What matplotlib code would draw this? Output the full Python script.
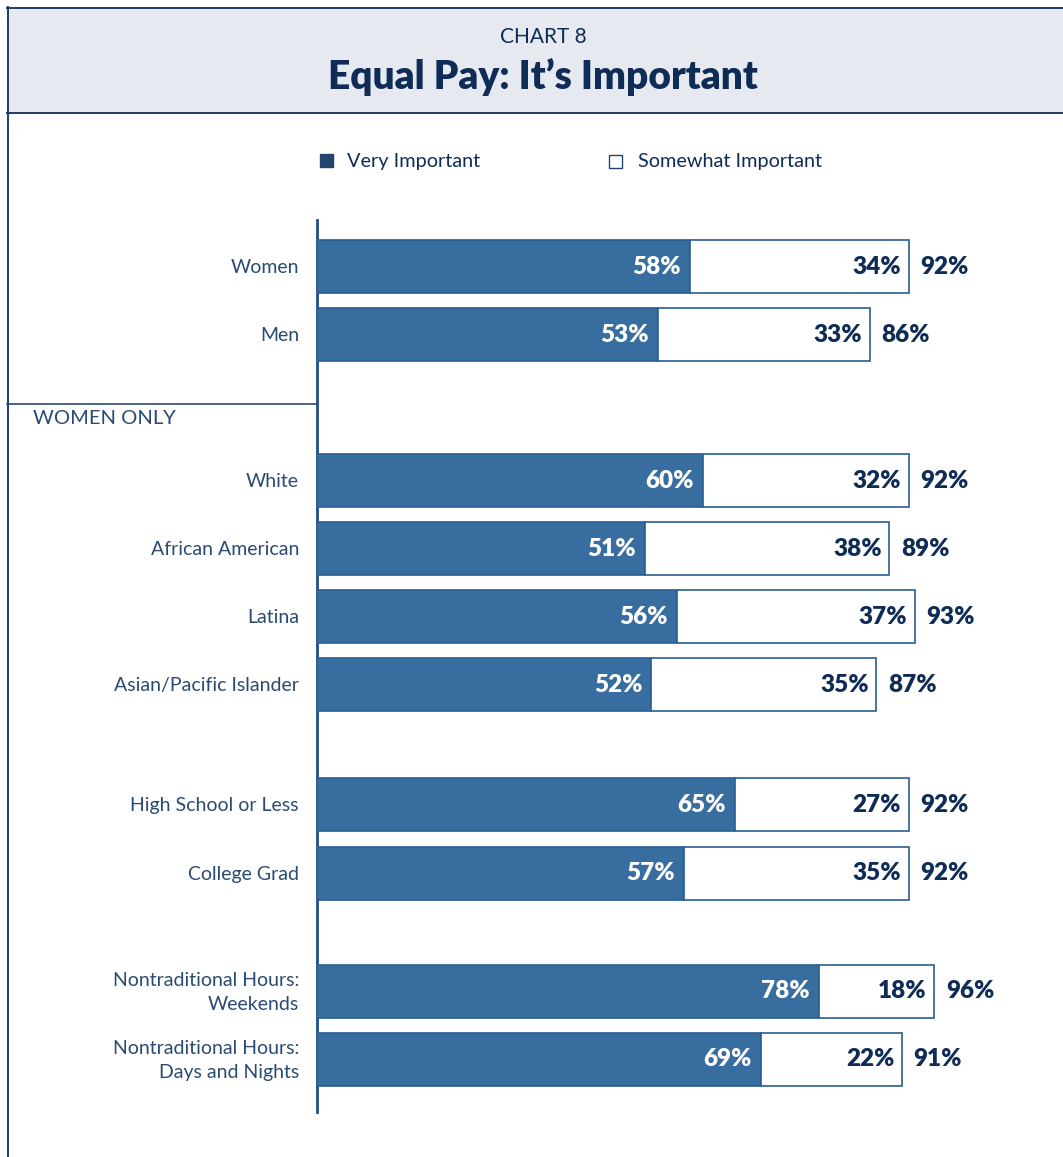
import matplotlib
matplotlib.use("Agg")
import matplotlib.pyplot as plt
from matplotlib.patches import Rectangle
from matplotlib.lines import Line2D

categories = ["Women", "Men", "White", "African American", "Latina",
              "Asian/Pacific Islander", "High School or Less", "College Grad",
              "Nontraditional Hours:\nWeekends", "Nontraditional Hours:\nDays and Nights"]
very_important = [58, 53, 60, 51, 56, 52, 65, 57, 78, 69]
somewhat_important = [34, 33, 32, 38, 37, 35, 27, 35, 18, 22]
totals = [92, 86, 92, 89, 93, 87, 92, 92, 96, 91]

# layout (pixel rows of bar centres)
y_pos = [266.5, 334.5, 480.5, 548.5, 616.5, 684.5, 804.5, 873.5, 991.5, 1059.5]
BAR_H = 53

W, H = 1063, 1157
DARK = "#386DA0"
EDGE = "#2A5D91"
NAVY = "#0F2C57"
LABEL = "#2A4A73"
FONT = ["Lato", "DejaVu Sans"]

fig = plt.figure(figsize=(W / 100, H / 100), dpi=100)

# background frame axes in pixel coords
bg = fig.add_axes([0, 0, 1, 1])
bg.set_xlim(0, W)
bg.set_ylim(H, 0)
bg.axis("off")
bg.add_patch(Rectangle((7, 7), W - 7 + 5, 106, facecolor="#E6E9EF", edgecolor="none"))
bg.add_line(Line2D([7, W], [7.5, 7.5], color="#1F3C66", lw=1.4))
bg.add_line(Line2D([7, W], [113, 113], color="#1F3C66", lw=1.4))
bg.add_line(Line2D([7.5, 7.5], [7, H], color="#1F3C66", lw=1.4))
bg.add_line(Line2D([7, 316], [403.5, 403.5], color="#2B4A72", lw=1.2))
bg.add_line(Line2D([316.5, 316.5], [220, 1112], color="#1F4F86", lw=2.0))

bg.text(543, 37, "CHART 8", ha="center", va="center", fontsize=15,
        color=NAVY, family=FONT)
bg.text(543, 77, "Equal Pay: It\u2019s Important", ha="center", va="center",
        fontsize=28, fontweight="heavy", color=NAVY, family=FONT)

# legend
bg.add_patch(Rectangle((320, 154), 13, 13, facecolor="#24446F", edgecolor="#24446F"))
bg.text(347, 161, "Very Important", ha="left", va="center", fontsize=14.3,
        color=NAVY, family=FONT)
bg.add_patch(Rectangle((608.5, 154.5), 13, 13, facecolor="white", edgecolor="#24446F", lw=1))
bg.text(638, 161, "Somewhat Important", ha="left", va="center", fontsize=14.3,
        color=NAVY, family=FONT)

bg.text(33, 419, "WOMEN ONLY", ha="left", va="center", fontsize=14.5,
        color=LABEL, family=FONT)

# main bar axes: x in percent, y in pixel rows
x0 = 317
ax = fig.add_axes([x0 / W, 0, (W - x0) / W, 1])
ax.set_ylim(H, 0)
PX_PER_PCT = 6.43
ax.set_xlim(0, (W - x0) / PX_PER_PCT)
ax.axis("off")

ax.barh(y_pos, very_important, height=BAR_H, color=DARK, edgecolor=EDGE, lw=1.2)
ax.barh(y_pos, somewhat_important, left=very_important, height=BAR_H,
        color="white", edgecolor=EDGE, lw=1.2)

for y, v, s, t, c in zip(y_pos, very_important, somewhat_important, totals, categories):
    ax.text(v - 1.4, y, f"{v}%", ha="right", va="center", fontsize=17.5,
            fontweight="heavy", color="white", family=FONT)
    ax.text(v + s - 1.2, y, f"{s}%", ha="right", va="center", fontsize=17.5,
            fontweight="heavy", color=NAVY, family=FONT)
    ax.text(t + 1.8, y, f"{t}%", ha="left", va="center", fontsize=17.5,
            fontweight="heavy", color=NAVY, family=FONT)
    bg.text(299, y + 1, c, ha="right", va="center", fontsize=14, color=LABEL,
            family=FONT, linespacing=1.45)

fig.savefig("out.png", dpi=100)
